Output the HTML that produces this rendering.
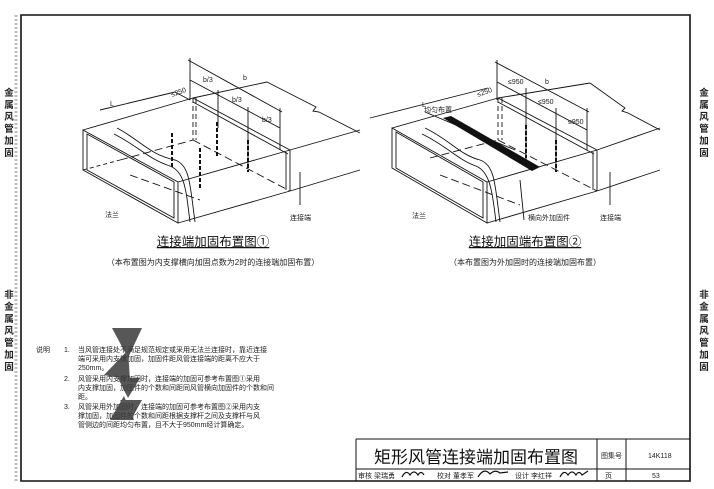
<!DOCTYPE html>
<html><head><meta charset="utf-8"><style>
html,body{margin:0;padding:0;background:#fff;}
svg{display:block;font-family:"Liberation Sans","Noto Sans CJK SC",sans-serif;}
</style></head><body>
<svg width="714" height="489" viewBox="0 0 714 489" xmlns="http://www.w3.org/2000/svg">
<rect width="714" height="489" fill="#fff"/>
<!-- frame -->
<path d="M21,15 L690,15 L690,481 L21,481 Z" fill="none" stroke="#111" stroke-width="1.6"/>
<line x1="16" y1="15" x2="16" y2="481" stroke="#bbb" stroke-width="3" stroke-dasharray="2,2"/>
<!-- side labels -->
<g font-size="9.5" font-weight="bold" fill="#222" text-anchor="middle">
<text x="9" y="96">金</text><text x="9" y="108">属</text><text x="9" y="120">风</text><text x="9" y="132">管</text><text x="9" y="144">加</text><text x="9" y="156">固</text>
<text x="9" y="298">非</text><text x="9" y="310">金</text><text x="9" y="322">属</text><text x="9" y="334">风</text><text x="9" y="346">管</text><text x="9" y="358">加</text><text x="9" y="370">固</text>
<text x="704" y="96">金</text><text x="704" y="108">属</text><text x="704" y="120">风</text><text x="704" y="132">管</text><text x="704" y="144">加</text><text x="704" y="156">固</text>
<text x="704" y="298">非</text><text x="704" y="310">金</text><text x="704" y="322">属</text><text x="704" y="334">风</text><text x="704" y="346">管</text><text x="704" y="358">加</text><text x="704" y="370">固</text>
</g>

<!-- Drawing 1 -->
<g fill="none" stroke="#111" stroke-width="0.9">
<polygon points="83,130 178,182 178,223 83,170"/>
<polygon points="87,134 174,182 174,218 87,170"/>
<line x1="83" y1="130" x2="193" y2="98"/>
<line x1="178" y1="182" x2="290" y2="150"/>
<line x1="178" y1="223" x2="290" y2="191"/>
<line x1="193" y1="98" x2="290" y2="150"/>
<line x1="193" y1="102" x2="288" y2="154"/>
<line x1="290" y1="150" x2="290" y2="191"/>
<line x1="286" y1="152" x2="286" y2="190"/>
<line x1="193" y1="98" x2="267" y2="82"/>
<polyline points="267,82 316,107 313,111 319,112 360,133"/>
<line x1="290" y1="150" x2="360" y2="130"/>
<line x1="290" y1="191" x2="360" y2="170"/>
<path d="M117,128 C140,140 150,155 175,160 C190,165 190,185 195,222" />
<path d="M114,134 C138,146 150,160 170,166 C185,172 186,190 190,222"/>
<path d="M83,170 L120,160" stroke-dasharray="4,3"/>
<line x1="193" y1="98" x2="193" y2="140" stroke-dasharray="5,3"/>
<line x1="196" y1="98" x2="196" y2="140" stroke-dasharray="5,3"/>
<line x1="120" y1="160" x2="193" y2="140" stroke-dasharray="8,4"/>
<line x1="193" y1="140" x2="290" y2="191" stroke-dasharray="8,4"/>
<line x1="130" y1="175" x2="200" y2="200" stroke-dasharray="8,4"/>
<!-- dims -->
<line x1="190" y1="58" x2="190" y2="100"/>
<line x1="280" y1="108" x2="280" y2="150"/>
<line x1="188" y1="60" x2="282" y2="112"/>
<line x1="190" y1="80" x2="280" y2="128"/>
<line x1="218" y1="90" x2="218" y2="128"/>
<line x1="248" y1="107" x2="248" y2="168"/>
<line x1="100" y1="110" x2="175" y2="92"/>
<line x1="175" y1="92" x2="190" y2="100"/>
<line x1="300" y1="172" x2="300" y2="205"/>
</g>
<g stroke="#111" stroke-width="2" stroke-dasharray="4,2">
<line x1="172" y1="133" x2="172" y2="168"/><line x1="200" y1="148" x2="200" y2="190"/>
<line x1="217" y1="122" x2="217" y2="158"/><line x1="248" y1="140" x2="248" y2="172"/>
</g>
<g font-size="7" fill="#222">
<text x="110" y="106">L</text><text x="172" y="97" transform="rotate(-20 172 97)">≤250</text>
<text x="203" y="82">b/3</text><text x="232" y="102">b/3</text><text x="262" y="122">b/3</text><text x="243" y="80">b</text>
<text x="105" y="217">法兰</text><text x="290" y="220">连接端</text>
</g>
<text x="213" y="246" font-size="12.5" text-anchor="middle" fill="#111" text-decoration="underline">连接端加固布置图①</text>
<text x="213" y="265" font-size="8" text-anchor="middle" fill="#222">（本布置图为内支撑横向加固点数为2时的连接端加固布置）</text>

<!-- Drawing 2 -->
<g fill="none" stroke="#111" stroke-width="0.9">
<polygon points="392,128 487,182 487,223 392,168"/>
<polygon points="396,132 483,182 483,218 396,168"/>
<line x1="392" y1="128" x2="498" y2="98"/>
<line x1="487" y1="182" x2="597" y2="150"/>
<line x1="487" y1="223" x2="597" y2="191"/>
<line x1="498" y1="98" x2="597" y2="150"/>
<line x1="498" y1="102" x2="594" y2="154"/>
<line x1="597" y1="150" x2="597" y2="191"/>
<line x1="593" y1="152" x2="593" y2="190"/>
<line x1="498" y1="98" x2="590" y2="83"/>
<polyline points="590,83 625,108 622,111 628,113 660,130"/>
<line x1="597" y1="150" x2="660" y2="128"/>
<line x1="597" y1="191" x2="660" y2="170"/>
<path d="M425,128 C450,140 460,155 480,160 C495,165 495,185 500,222"/>
<path d="M422,134 C447,146 458,160 476,166 C490,172 492,190 496,222"/>
<line x1="498" y1="98" x2="498" y2="140" stroke-dasharray="5,3"/>
<line x1="502" y1="98" x2="502" y2="140" stroke-dasharray="5,3"/>
<line x1="430" y1="158" x2="498" y2="140" stroke-dasharray="8,4"/>
<line x1="498" y1="140" x2="597" y2="191" stroke-dasharray="8,4"/>
<line x1="440" y1="175" x2="520" y2="205" stroke-dasharray="8,4"/>
<line x1="497" y1="60" x2="497" y2="100"/>
<line x1="587" y1="108" x2="587" y2="150"/>
<line x1="495" y1="62" x2="589" y2="112"/>
<line x1="497" y1="82" x2="587" y2="130"/>
<line x1="526" y1="88" x2="526" y2="160"/>
<line x1="556" y1="108" x2="556" y2="172"/>
<line x1="370" y1="118" x2="488" y2="88"/>
<line x1="425" y1="112" x2="515" y2="150"/>
<line x1="520" y1="180" x2="524" y2="220"/>
<line x1="610" y1="172" x2="610" y2="205"/>
</g>
<polygon points="443,118 451,116 540,167 532,171" fill="#111"/>
<g stroke="#111" stroke-width="2" stroke-dasharray="4,2">
<line x1="526" y1="125" x2="526" y2="158"/><line x1="556" y1="140" x2="556" y2="172"/>
</g>
<g font-size="7" fill="#222">
<text x="422" y="107">L</text><text x="478" y="97" transform="rotate(-20 478 97)">≤250</text>
<text x="424" y="112">均匀布置</text>
<text x="508" y="84">≤950</text><text x="538" y="104">≤950</text><text x="568" y="124">≤950</text><text x="545" y="84">b</text>
<text x="412" y="218">法兰</text><text x="528" y="220">横向外加固件</text><text x="600" y="220">连接端</text>
</g>
<text x="525" y="246" font-size="12.5" text-anchor="middle" fill="#111" text-decoration="underline">连接加固端布置图②</text>
<text x="525" y="265" font-size="8" text-anchor="middle" fill="#222">（本布置图为外加固时的连接端加固布置）</text>

<!-- notes -->
<g font-size="7" fill="#222">
<text x="36" y="352">说明</text>
<text x="64" y="352">1.</text><text x="78" y="352">当风管连接处不满足规范规定或采用无法兰连接时，靠近连接</text>
<text x="78" y="361">端可采用内支撑加固，加固件距风管连接端的距离不应大于</text>
<text x="78" y="370">250mm。</text>
<text x="64" y="381">2.</text><text x="78" y="381">风管采用内支撑加固时，连接端的加固可参考布置图①采用</text>
<text x="78" y="390">内支撑加固，加固件的个数和间距同风管横向加固件的个数和间</text>
<text x="78" y="399">距。</text>
<text x="64" y="409">3.</text><text x="78" y="409">风管采用外加固时，连接端的加固可参考布置图②采用内支</text>
<text x="78" y="418">撑加固，加固件的个数和间距根据支撑杆之间及支撑杆与风</text>
<text x="78" y="427">管侧边的间距均匀布置，且不大于950mm经计算确定。</text>
</g>
<g fill="#3a3a3a" opacity="0.85">
<polygon points="112,328 142,328 128,358"/>
<polygon points="104,375 128,350 130,380"/>
<polygon points="118,378 140,378 128,398"/>
<polygon points="110,420 124,396 134,420"/>
<polygon points="120,400 142,400 132,418"/>
</g>

<!-- title block -->
<g fill="none" stroke="#111" stroke-width="1">
<line x1="356" y1="439" x2="690" y2="439"/>
<line x1="356" y1="439" x2="356" y2="481"/>
<line x1="356" y1="469" x2="690" y2="469"/>
<line x1="597" y1="439" x2="597" y2="481"/>
<line x1="626" y1="439" x2="626" y2="481"/>
</g>
<text x="476" y="463" font-size="17" text-anchor="middle" fill="#111">矩形风管连接端加固布置图</text>
<g font-size="7" fill="#222">
<text x="601" y="458">图集号</text><text x="648" y="458">14K118</text>
<text x="605" y="478">页</text><text x="652" y="478">53</text>
<text x="358" y="478">审核 梁瑞勇</text>
<text x="437" y="478">校对 董孝军</text>
<text x="515" y="478">设计 李红祥</text>
</g>
<g fill="none" stroke="#111" stroke-width="1.2">
<path d="M402,477 q4,-8 8,-2 q4,-6 8,0 q3,-5 6,0"/>
<path d="M478,477 q6,-10 12,-3 q5,-5 10,-1 l8,-1"/>
<path d="M560,477 q4,-8 8,-2 q4,-6 8,0 q3,-5 6,0 l6,-4"/>
</g>
</svg>
</body></html>
